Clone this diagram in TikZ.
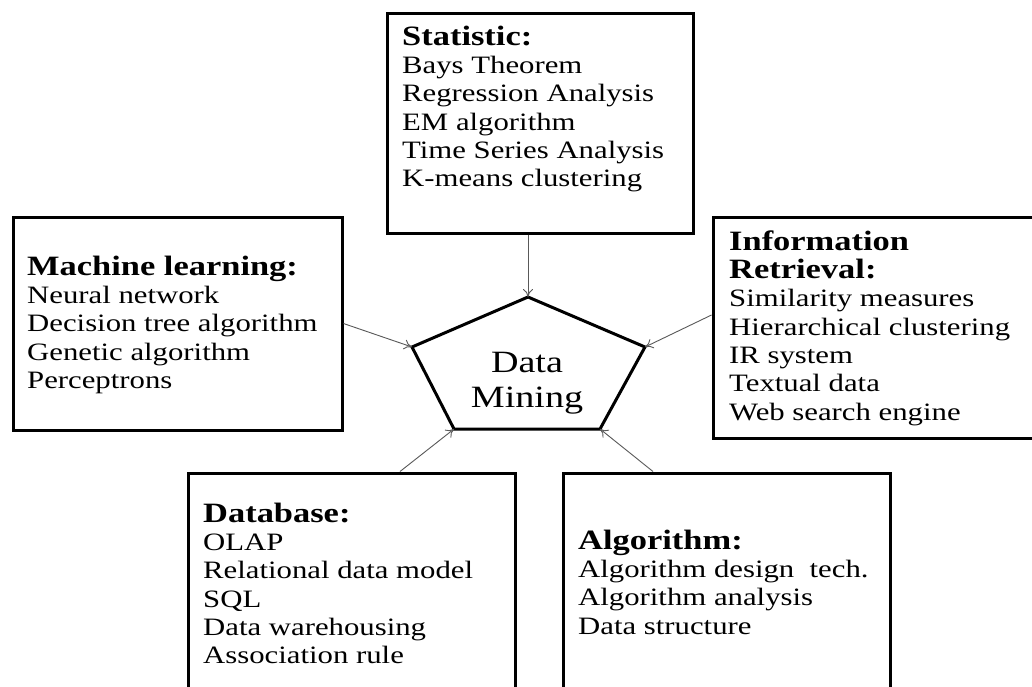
\documentclass[tikz,border=0pt]{standalone}
\usepackage{fontspec}
\setmainfont[FakeStretch=1.23]{Liberation Serif}
\usetikzlibrary{arrows.meta,calc}
\tikzset{
  box/.style={draw=black, line width=3pt, rectangle, inner sep=0pt},
  boxtext/.style={anchor=north west, inner sep=0pt, align=left, text=black,
    font=\fontsize{25}{28.3}\selectfont},
  link/.style={draw=black!65, line width=0.9pt, -{To[length=8pt,width=10pt]}},
  penta/.style={draw=black, line width=3pt, line join=miter}
}
\newcommand{\hd}[1]{{\fontsize{28}{28.3}\selectfont\bfseries #1}}
\newcommand{\firstrule}{\rule{0pt}{22pt}}
\begin{document}
\begin{tikzpicture}[x=1pt,y=-1pt]
\useasboundingbox (0,0) rectangle (1032,686);
\clip (0,0) rectangle (1032,686);
\fill[white] (0,0) rectangle (1032,686);

% boxes
\node[box, minimum width=306pt, minimum height=220pt] (stat) at (540,123) {};
\node[box, minimum width=329pt, minimum height=213pt] (ml) at (177.5,323.5) {};
\node[box, minimum width=380pt, minimum height=221pt] (ir) at (903,327.5) {};
\node[box, minimum width=327pt, minimum height=227pt] (db) at (351.5,586.5) {};
\node[box, minimum width=327pt, minimum height=227pt] (alg) at (726.5,586.5) {};

% texts
\node[boxtext] (stattext) at (402,23) {\firstrule\hd{Statistic:}\\
Bays Theorem\\ Regression Analysis\\ EM algorithm\\ Time Series Analysis\\ K-means clustering};
\node[boxtext] (mltext) at (27,253) {\firstrule\hd{Machine learning:}\\
Neural network\\ Decision tree algorithm\\ Genetic algorithm\\ Perceptrons};
\node[boxtext] (irtext) at (729,228) {\firstrule\hd{Information}\\ \hd{Retrieval:}\\
Similarity measures\\ Hierarchical clustering\\ IR system\\ Textual data\\ Web search engine};
\node[boxtext] (dbtext) at (203,500) {\firstrule\hd{Database:}\\
OLAP\\ Relational data model\\ SQL\\ Data warehousing\\ Association rule};
\node[boxtext] (algtext) at (578,527) {\firstrule\hd{Algorithm:}\\
Algorithm design\ \ tech.\\ Algorithm analysis\\ Data structure};

% pentagon
\coordinate (pt) at (528,297);
\coordinate (pr) at (645,347);
\coordinate (pbr) at (600,429);
\coordinate (pbl) at (454,429);
\coordinate (pl) at (412,347);
\draw[penta] (pt) -- (pr) -- (pbr) -- (pbl) -- (pl) -- cycle;
\node[anchor=north, inner sep=0pt, align=center, text=black,
  font=\fontsize{31}{35}\selectfont] (dm) at (527,346) {\rule{0pt}{26pt}Data\\ Mining};

% connectors
\draw[link] (stat.south -| pt) -- (pt);
\draw[link] (ml.east) -- (pl);
\draw[link] ($(ir.west)+(0,-12.5)$) -- (pr);
\draw[link] ($(db.north)+(48.5,0)$) -- (pbl);
\draw[link] ($(alg.north)+(-73.5,0)$) -- (pbr);
\end{tikzpicture}
\end{document}
